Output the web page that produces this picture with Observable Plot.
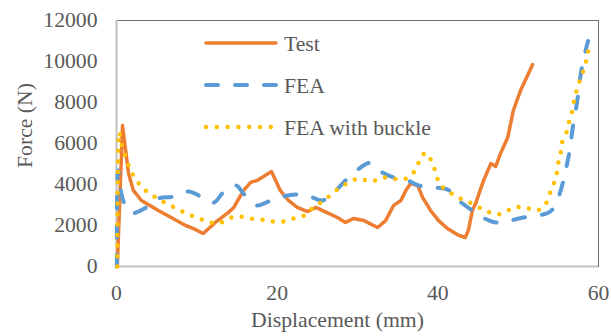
<!DOCTYPE html>
<html><head><meta charset="utf-8">
<script src="https://cdn.jsdelivr.net/npm/d3@7"></script>
<script src="https://cdn.jsdelivr.net/npm/@observablehq/plot@0.6"></script>
<style>
html,body{margin:0;padding:0;background:#fff;}
#chart{position:relative;width:611px;height:336px;}
#legend{position:absolute;left:0;top:0;}
</style></head><body><div id="chart"></div>
<script>
// Displacement (mm) and Force (N) for each series
const seriesNames = ["Test", "FEA", "FEA with buckle"];
const seriesColors = ["#ED7D31", "#5B9BD5", "#FFC000"];

const testD = [0.1, 0.75, 1.5, 2.1, 3.1, 5.2, 6.8, 8.6, 9.6, 10.8, 12.3, 13.9, 14.6, 15.8, 16.7, 17.5, 18.3, 19.3, 20.4, 21.4, 22.5, 23.8, 24.8, 26.2, 27.5, 28.5, 29.5, 30.8, 32.5, 33.5, 34.5, 35.4, 36.0, 36.6, 37.5, 38.1, 39.1, 40.1, 41.2, 42.4, 43.4, 43.8, 44.3, 44.7, 45.7, 46.6, 47.2, 47.8, 48.7, 49.4, 50.3, 51.8];
const testF = [0, 6880, 4540, 3710, 3220, 2730, 2390, 2000, 1850, 1610, 2150, 2630, 2880, 3700, 4100, 4200, 4390, 4630, 3700, 3220, 2880, 2680, 2880, 2630, 2390, 2150, 2340, 2240, 1900, 2240, 2980, 3220, 3700, 4050, 3950, 3370, 2730, 2240, 1850, 1560, 1415, 1760, 2730, 3070, 4200, 5020, 4880, 5510, 6290, 7610, 8590, 9850];

const feaD = [0.05, 0.2, 0.6, 1.1, 2.0, 2.4, 3.7, 5.2, 7.1, 9.0, 10.5, 12.1, 13.3, 14.9, 15.8, 17.5, 18.9, 20.7, 22.3, 24.1, 25.6, 27.3, 28.5, 30.4, 31.5, 32.9, 34.5, 36.2, 37.6, 39.7, 41.2, 42.6, 44.1, 45.6, 47.2, 49.0, 50.7, 52.5, 54.0, 55.0, 56.3, 56.8, 57.4, 57.8, 58.4, 58.7];
const feaF = [0, 4680, 3560, 2980, 2600, 2630, 2880, 3320, 3410, 3660, 3410, 3120, 3610, 3950, 3560, 2980, 3170, 3410, 3510, 3410, 3220, 3700, 4200, 4830, 5050, 4630, 4340, 4200, 3950, 3850, 3760, 3220, 2780, 2390, 2150, 2240, 2390, 2490, 2680, 3370, 5410, 6780, 8200, 9410, 10540, 11000];

const buckleD = [0.1, 0.35, 0.6, 1.0, 1.5, 2.1, 2.9, 3.9, 5.1, 6.2, 7.5, 8.7, 10.0, 11.3, 12.7, 13.9, 15.2, 16.7, 18.1, 19.4, 20.8, 22.0, 23.4, 24.5, 25.6, 26.6, 27.8, 28.9, 30.1, 31.7, 33.1, 34.4, 35.7, 36.8, 37.5, 38.1, 38.7, 39.3, 39.8, 40.2, 41.2, 42.3, 43.4, 44.7, 45.9, 47.2, 48.3, 49.4, 50.9, 52.3, 53.3, 53.9, 54.4, 54.8, 55.0, 55.3, 55.5, 56.1, 56.4, 56.8, 57.0, 57.4, 57.8, 58.3, 58.6, 58.9];
const buckleF = [0, 6540, 6000, 5510, 4930, 4440, 4000, 3610, 3320, 3070, 2830, 2590, 2390, 2200, 2100, 2340, 2440, 2340, 2290, 2200, 2200, 2340, 2490, 2880, 3170, 3460, 3850, 4100, 4290, 4150, 4340, 4290, 4240, 4490, 4980, 5460, 5510, 5020, 4540, 4000, 3710, 3410, 3220, 2980, 2730, 2540, 2630, 2880, 2880, 2730, 2980, 3510, 4000, 4540, 5070, 5560, 6100, 6630, 7170, 7660, 8200, 8730, 9220, 9760, 10290, 10830];

const xTicks = [0, 20, 40, 60];
const yTicks = [0, 2000, 4000, 6000, 8000, 10000, 12000];
const xTitle = "Displacement (mm)";
const yTitle = "Force (N)";

const rows = (ds, fs) => ds.map((d, i) => ({d, f: fs[i]}));
const test = rows(testD, testF);
const fea = rows(feaD, feaF);
const buckle = rows(buckleD, buckleF);

const font = "'Liberation Serif','Times New Roman',serif";
const textColor = "#595959";
const fs = 21.7;

const chart = Plot.plot({
  width: 611, height: 336,
  marginLeft: 116, marginRight: 13, marginTop: 20, marginBottom: 70,
  style: {fontFamily: font, fontSize: fs + "px", color: textColor, background: "#fff"},
  x: {domain: [0, 60], ticks: xTicks, tickSize: 0, tickPadding: 18, label: null},
  y: {domain: [0, 12000], ticks: yTicks, tickSize: 0, tickPadding: 19, label: null, tickFormat: d => String(d)},
  marks: [
    Plot.frame({stroke: "#6f6f6f", strokeWidth: 1}),
    Plot.ruleX([0], {stroke: "#BFBFBF", strokeWidth: 2}),
    Plot.ruleY([0], {stroke: "#BFBFBF", strokeWidth: 2}),
    Plot.line(test, {x: "d", y: "f", stroke: seriesColors[0], strokeWidth: 3.5, strokeLinejoin: "round", strokeLinecap: "round"}),
    Plot.line(fea, {x: "d", y: "f", stroke: seriesColors[1], strokeWidth: 4, strokeDasharray: "12 17", strokeLinecap: "round", curve: "catmull-rom"}),
    Plot.line(buckle, {x: "d", y: "f", stroke: seriesColors[2], strokeWidth: 4.5, strokeDasharray: "0 10.5", strokeLinecap: "round", curve: "catmull-rom"}),
    Plot.text([xTitle], {frameAnchor: "bottom", dy: 60, dx: -20, fill: textColor, fontSize: fs}),
    Plot.text([yTitle], {frameAnchor: "left", textAnchor: "middle", rotate: -90, dx: -91, dy: -18, fill: textColor, fontSize: fs})
  ]
});
document.getElementById("chart").appendChild(chart);

// Legend overlay (inside the plot area, top-left)
const leg = d3.select("#chart").append("svg").attr("id", "legend")
  .attr("width", 611).attr("height", 336);
const styles = [
  {dash: null, w: 3.5},
  {dash: "12 17", w: 4},
  {dash: "0 10.8", w: 4.5}
];
seriesNames.forEach((name, i) => {
  const y = 43 + i * 42;
  leg.append("line").attr("x1", 206).attr("x2", 276).attr("y1", y).attr("y2", y)
    .attr("stroke", seriesColors[i]).attr("stroke-width", styles[i].w)
    .attr("stroke-linecap", "round")
    .attr("stroke-dasharray", styles[i].dash);
  leg.append("text").attr("x", 284).attr("y", y).attr("dy", "0.35em")
    .attr("fill", textColor).attr("font-family", font).attr("font-size", fs).text(name);
});
</script></body></html>
